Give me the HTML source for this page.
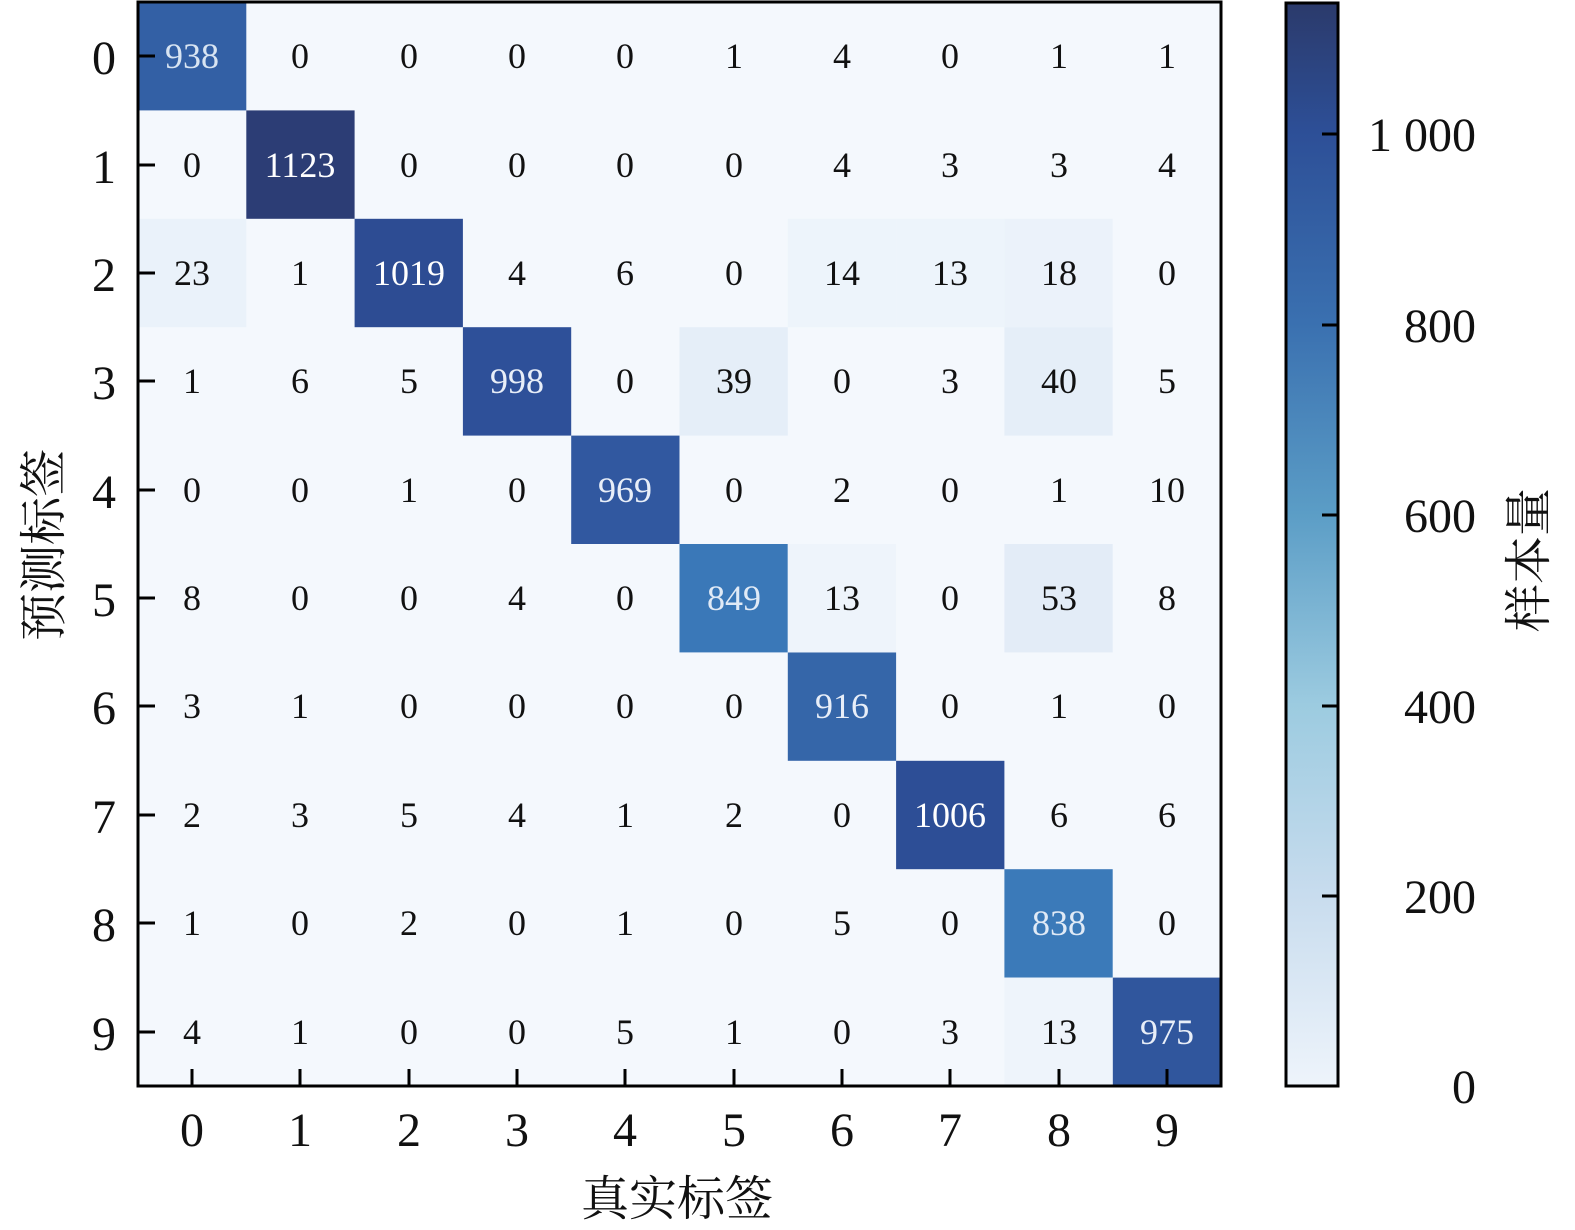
<!DOCTYPE html>
<html><head><meta charset="utf-8"><style>
body{margin:0;background:#fff}
svg{display:block}
.v{font-family:"Liberation Serif",serif;font-size:36px;text-anchor:middle;dominant-baseline:central}
.t{font-family:"Liberation Serif",serif;font-size:48px}
.c{font-family:"Liberation Serif","Noto Serif CJK SC",serif;font-size:48px}
</style></head><body>
<svg width="1575" height="1230" xmlns="http://www.w3.org/2000/svg">
<defs>
<linearGradient id="g" x1="0" y1="1" x2="0" y2="0">
<stop offset="0" stop-color="#eef4fb"/>
<stop offset="0.176" stop-color="#c8dcee"/>
<stop offset="0.352" stop-color="#9ccbe0"/>
<stop offset="0.529" stop-color="#5b9dc6"/>
<stop offset="0.705" stop-color="#3a70b0"/>
<stop offset="0.881" stop-color="#2d4f97"/>
<stop offset="1" stop-color="#2b3a6b"/>
</linearGradient>
</defs>
<rect x="138" y="2" width="1083" height="1084" fill="#f4f8fd"/>
<g id="cells">
<!-- diagonal and notable -->
<rect x="138" y="2" width="108.3" height="108.4" fill="#3360a5"/>
<rect x="246.3" y="110.4" width="108.3" height="108.4" fill="#2c3d75"/>
<rect x="354.6" y="218.8" width="108.3" height="108.4" fill="#2d4c93"/>
<rect x="462.9" y="327.2" width="108.3" height="108.4" fill="#2e5099"/>
<rect x="571.2" y="435.6" width="108.3" height="108.4" fill="#3158a0"/>
<rect x="679.5" y="544" width="108.3" height="108.4" fill="#3a78b8"/>
<rect x="787.8" y="652.4" width="108.3" height="108.4" fill="#3566a9"/>
<rect x="896.1" y="760.8" width="108.3" height="108.4" fill="#2d4e96"/>
<rect x="1004.4" y="869.2" width="108.3" height="108.4" fill="#3b7ab9"/>
<rect x="1112.7" y="977.6" width="108.3" height="108.4" fill="#30569d"/>
<rect x="138" y="218.8" width="108.3" height="108.4" fill="#eaf2fa"/>
<rect x="787.8" y="218.8" width="108.3" height="108.4" fill="#edf4fb"/>
<rect x="896.1" y="218.8" width="108.3" height="108.4" fill="#edf4fb"/>
<rect x="1004.4" y="218.8" width="108.3" height="108.4" fill="#ebf2fa"/>
<rect x="679.5" y="327.2" width="108.3" height="108.4" fill="#e5eef8"/>
<rect x="1004.4" y="327.2" width="108.3" height="108.4" fill="#e5eef8"/>
<rect x="1004.4" y="544" width="108.3" height="108.4" fill="#e3ecf7"/>
<rect x="787.8" y="544" width="108.3" height="108.4" fill="#eef4fb"/>
<rect x="1004.4" y="977.6" width="108.3" height="108.4" fill="#eef4fb"/>
</g>
<rect x="138" y="2" width="1083" height="1084" fill="none" stroke="#000" stroke-width="3"/>
<g stroke="#000" stroke-width="3">
<line x1="138" y1="56" x2="155" y2="56"/><line x1="138" y1="165" x2="155" y2="165"/><line x1="138" y1="273" x2="155" y2="273"/><line x1="138" y1="381" x2="155" y2="381"/><line x1="138" y1="490" x2="155" y2="490"/><line x1="138" y1="598" x2="155" y2="598"/><line x1="138" y1="706" x2="155" y2="706"/><line x1="138" y1="815" x2="155" y2="815"/><line x1="138" y1="923" x2="155" y2="923"/><line x1="138" y1="1032" x2="155" y2="1032"/>
<line x1="192" y1="1086" x2="192" y2="1069"/><line x1="300" y1="1086" x2="300" y2="1069"/><line x1="409" y1="1086" x2="409" y2="1069"/><line x1="517" y1="1086" x2="517" y2="1069"/><line x1="625" y1="1086" x2="625" y2="1069"/><line x1="734" y1="1086" x2="734" y2="1069"/><line x1="842" y1="1086" x2="842" y2="1069"/><line x1="950" y1="1086" x2="950" y2="1069"/><line x1="1059" y1="1086" x2="1059" y2="1069"/><line x1="1167" y1="1086" x2="1167" y2="1069"/>
</g>
<g class="v" fill="#111">
<text x="192" y="56" fill="#d8e4f2">938</text><text x="300" y="56">0</text><text x="409" y="56">0</text><text x="517" y="56">0</text><text x="625" y="56">0</text><text x="734" y="56">1</text><text x="842" y="56">4</text><text x="950" y="56">0</text><text x="1059" y="56">1</text><text x="1167" y="56">1</text>
<text x="192" y="165">0</text><text x="300" y="165" fill="#fff">1123</text><text x="409" y="165">0</text><text x="517" y="165">0</text><text x="625" y="165">0</text><text x="734" y="165">0</text><text x="842" y="165">4</text><text x="950" y="165">3</text><text x="1059" y="165">3</text><text x="1167" y="165">4</text>
<text x="192" y="273">23</text><text x="300" y="273">1</text><text x="409" y="273" fill="#fff">1019</text><text x="517" y="273">4</text><text x="625" y="273">6</text><text x="734" y="273">0</text><text x="842" y="273">14</text><text x="950" y="273">13</text><text x="1059" y="273">18</text><text x="1167" y="273">0</text>
<text x="192" y="381">1</text><text x="300" y="381">6</text><text x="409" y="381">5</text><text x="517" y="381" fill="#e8eef8">998</text><text x="625" y="381">0</text><text x="734" y="381">39</text><text x="842" y="381">0</text><text x="950" y="381">3</text><text x="1059" y="381">40</text><text x="1167" y="381">5</text>
<text x="192" y="490">0</text><text x="300" y="490">0</text><text x="409" y="490">1</text><text x="517" y="490">0</text><text x="625" y="490" fill="#e8eef8">969</text><text x="734" y="490">0</text><text x="842" y="490">2</text><text x="950" y="490">0</text><text x="1059" y="490">1</text><text x="1167" y="490">10</text>
<text x="192" y="598">8</text><text x="300" y="598">0</text><text x="409" y="598">0</text><text x="517" y="598">4</text><text x="625" y="598">0</text><text x="734" y="598" fill="#e0eaf6">849</text><text x="842" y="598">13</text><text x="950" y="598">0</text><text x="1059" y="598">53</text><text x="1167" y="598">8</text>
<text x="192" y="706">3</text><text x="300" y="706">1</text><text x="409" y="706">0</text><text x="517" y="706">0</text><text x="625" y="706">0</text><text x="734" y="706">0</text><text x="842" y="706" fill="#e8eef8">916</text><text x="950" y="706">0</text><text x="1059" y="706">1</text><text x="1167" y="706">0</text>
<text x="192" y="815">2</text><text x="300" y="815">3</text><text x="409" y="815">5</text><text x="517" y="815">4</text><text x="625" y="815">1</text><text x="734" y="815">2</text><text x="842" y="815">0</text><text x="950" y="815" fill="#fff">1006</text><text x="1059" y="815">6</text><text x="1167" y="815">6</text>
<text x="192" y="923">1</text><text x="300" y="923">0</text><text x="409" y="923">2</text><text x="517" y="923">0</text><text x="625" y="923">1</text><text x="734" y="923">0</text><text x="842" y="923">5</text><text x="950" y="923">0</text><text x="1059" y="923" fill="#e0eaf6">838</text><text x="1167" y="923">0</text>
<text x="192" y="1032">4</text><text x="300" y="1032">1</text><text x="409" y="1032">0</text><text x="517" y="1032">0</text><text x="625" y="1032">5</text><text x="734" y="1032">1</text><text x="842" y="1032">0</text><text x="950" y="1032">3</text><text x="1059" y="1032">13</text><text x="1167" y="1032" fill="#e8eef8">975</text>
</g>
<g class="t" fill="#111" text-anchor="end">
<text x="116" y="74">0</text><text x="116" y="183">1</text><text x="116" y="291">2</text><text x="116" y="399">3</text><text x="116" y="508">4</text><text x="116" y="616">5</text><text x="116" y="724">6</text><text x="116" y="833">7</text><text x="116" y="941">8</text><text x="116" y="1050">9</text>
</g>
<g class="t" fill="#111" text-anchor="middle">
<text x="192" y="1146">0</text><text x="300" y="1146">1</text><text x="409" y="1146">2</text><text x="517" y="1146">3</text><text x="625" y="1146">4</text><text x="734" y="1146">5</text><text x="842" y="1146">6</text><text x="950" y="1146">7</text><text x="1059" y="1146">8</text><text x="1167" y="1146">9</text>
</g>
<text class="c" x="677" y="1215" text-anchor="middle" fill="#111">真实标签</text>
<text class="c" transform="translate(60,545) rotate(-90)" text-anchor="middle" fill="#111">预测标签</text>
<rect x="1286" y="3" width="52" height="1083" fill="url(#g)" stroke="#000" stroke-width="3"/>
<g stroke="#000" stroke-width="3">
<line x1="1338" y1="134" x2="1322" y2="134"/><line x1="1338" y1="325" x2="1322" y2="325"/><line x1="1338" y1="515" x2="1322" y2="515"/><line x1="1338" y1="706" x2="1322" y2="706"/><line x1="1338" y1="896" x2="1322" y2="896"/>
</g>
<g class="t" fill="#111" text-anchor="end">
<text x="1476" y="151">1 000</text><text x="1476" y="342">800</text><text x="1476" y="532">600</text><text x="1476" y="723">400</text><text x="1476" y="913">200</text><text x="1476" y="1103">0</text>
</g>
<text class="c" transform="translate(1545,560) rotate(-90)" text-anchor="middle" fill="#111">样本量</text>
</svg>
</body></html>
